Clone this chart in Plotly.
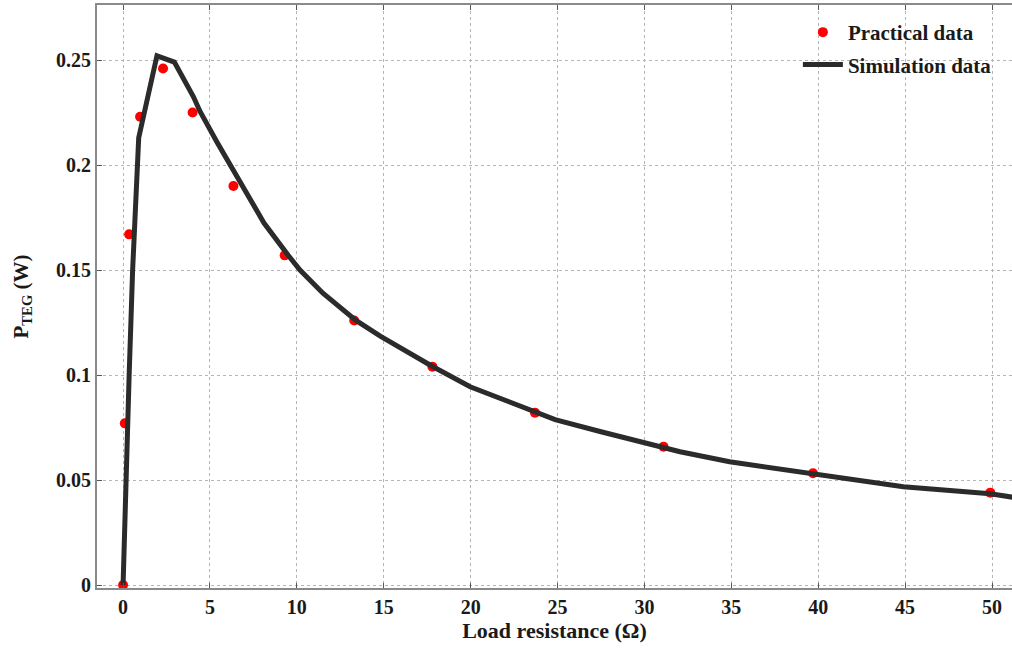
import plotly.graph_objects as go

# Practical (measured) data
prac_x = [0, 0.1, 0.35, 0.98, 2.3, 4.0, 6.35, 9.3, 13.3, 17.8, 23.7, 31.1, 39.7, 49.9]
prac_y = [0.0, 0.077, 0.167, 0.223, 0.246, 0.225, 0.190, 0.157, 0.126, 0.104, 0.0821, 0.0659, 0.0532, 0.0440]

# Simulation curve
sim_x = [0, 0.15, 0.35, 0.55, 0.7, 0.9, 1.95, 2.95, 4.05, 4.43, 5.4, 6.83, 8.1, 9.5, 10.18,
         11.5, 13.4, 14.8, 17.76, 19.97, 23.7, 24.86, 27.5, 29.94, 32.05, 34.9, 39.7, 44.9,
         49.9, 51.2]
sim_y = [0.0, 0.05, 0.10, 0.15, 0.18, 0.213, 0.252, 0.249, 0.2325, 0.2255, 0.211, 0.190,
         0.1725, 0.157, 0.150, 0.139, 0.126, 0.1185, 0.1043, 0.0944, 0.0821, 0.0788, 0.0730,
         0.0680, 0.0635, 0.0587, 0.0532, 0.0468, 0.0435, 0.0418]

x_ticks = [0, 5, 10, 15, 20, 25, 30, 35, 40, 45, 50]
y_ticks = [0, 0.05, 0.1, 0.15, 0.2, 0.25]
y_tick_labels = ["0", "0.05", "0.1", "0.15", "0.2", "0.25"]

FONT = "Liberation Serif"
TXT = "#1a1a1a"

fig = go.Figure()
fig.add_trace(go.Scatter(
    x=prac_x, y=prac_y, mode="markers", name="Practical data", legendgroup="a",
    marker=dict(color="#ff0000", size=10),
))
fig.add_trace(go.Scatter(
    x=sim_x, y=sim_y, mode="lines", name="Simulation data", legendgroup="b",
    line=dict(color="#2b2b2b", width=5),
))

axis_common = dict(
    showgrid=True, gridcolor="#b5b5b5", griddash="dot", gridwidth=1,
    showline=True, linecolor="#8a8a8a", linewidth=2,
    ticks="inside", ticklen=5, tickcolor="#555555",
    tickfont=dict(family=FONT, size=20, color=TXT, weight="bold"),
    zeroline=False, automargin=False,
)

fig.update_layout(
    width=1012, height=651,
    margin=dict(l=97, r=0, t=5, b=63),
    paper_bgcolor="white", plot_bgcolor="white",
    showlegend=True,
    legend=dict(
        xref="paper", yref="paper",
        x=0.766, y=0.988, xanchor="left", yanchor="top",
        bgcolor="rgba(0,0,0,0)",
        font=dict(family=FONT, size=21, color=TXT, weight="bold"),
        traceorder="grouped",
        tracegroupgap=2,
        itemwidth=40,
    ),
    xaxis=dict(
        range=[-1.5, 51.15], tickvals=x_ticks, mirror="ticks",
        title=dict(text="Load resistance (\u03a9)", standoff=2,
                   font=dict(family=FONT, size=22, color=TXT, weight="bold")),
        **axis_common,
    ),
    yaxis=dict(
        range=[-0.0014, 0.2762], tickvals=y_ticks, ticktext=y_tick_labels,
        title=dict(text="P<sub>TEG</sub> (W)", standoff=22,
                   font=dict(family=FONT, size=21, color=TXT, weight="bold")),
        **axis_common,
    ),
)

fig.write_html("out.html", config={"displayModeBar": False},
               post_script="document.body.style.margin='0px';")
